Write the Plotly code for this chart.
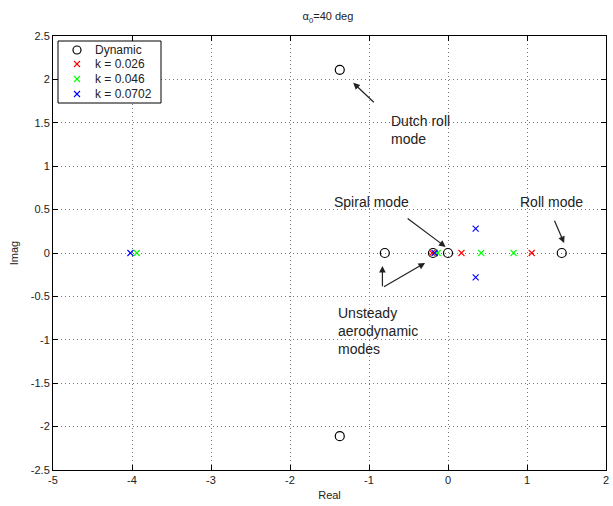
import plotly.graph_objects as go

# Eigenvalues of the lateral model at alpha0 = 40 deg
dyn_re = [-1.37, -1.37, -0.80, -0.19, 0.0, 1.44]
dyn_im = [2.11, -2.11, 0.0, 0.0, 0.0, 0.0]

k1_re = [-0.20, 0.17, 1.06]
k1_im = [0.0, 0.0, 0.0]

k2_re = [-3.94, -0.13, 0.42, 0.83]
k2_im = [0.0, 0.0, 0.0, 0.0]

k3_re = [-4.02, -0.17, 0.35, 0.35]
k3_im = [0.0, 0.0, 0.28, -0.28]

series_names = ["Dynamic", "k = 0.026", "k = 0.046", "k = 0.0702"]
series_colors = ["black", "#ff0000", "#00ff00", "#0000ff"]

x_ticks = [-5, -4, -3, -2, -1, 0, 1, 2]
y_ticks = [-2.5, -2, -1.5, -1, -0.5, 0, 0.5, 1, 1.5, 2, 2.5]

FONT = "Liberation Sans, Arial, Helvetica, sans-serif"

# plot area in pixels (figure 613 x 506)
ML, MR, MT, MB = 53, 7, 36, 36
PW, PH = 613 - ML - MR, 506 - MT - MB


def px(xp):
    return (xp - ML) / PW


def py(yp):
    return 1 - (yp - MT) / PH


fig = go.Figure()
fig.add_trace(go.Scatter(
    x=dyn_re, y=dyn_im, mode="markers", name=series_names[0],
    marker=dict(symbol="circle-open", size=9, color=series_colors[0], line=dict(width=1.2)),
))
for name, color, xs, ys in zip(series_names[1:], series_colors[1:],
                               [k1_re, k2_re, k3_re], [k1_im, k2_im, k3_im]):
    fig.add_trace(go.Scatter(
        x=xs, y=ys, mode="markers", name=name,
        marker=dict(symbol="x-thin-open", size=6, color=color, line=dict(width=1.1, color=color)),
    ))

# Legend box drawn in the upper-left corner of the axes
shapes = [dict(type="rect", xref="paper", yref="paper",
               x0=px(58), x1=px(161), y0=py(103), y1=py(41),
               line=dict(color="black", width=1), fillcolor="white", layer="above")]
annotations = []
row_y = [50, 64, 79, 94]
mx = 77
for i, (name, color) in enumerate(zip(series_names, series_colors)):
    yy = row_y[i]
    if i == 0:
        shapes.append(dict(type="circle", xref="paper", yref="paper",
                           x0=px(mx - 4), x1=px(mx + 4), y0=py(yy + 4), y1=py(yy - 4),
                           line=dict(color=color, width=1.2), layer="above"))
    else:
        for d in (1, -1):
            shapes.append(dict(type="line", xref="paper", yref="paper",
                               x0=px(mx - 3), x1=px(mx + 3), y0=py(yy - 3 * d), y1=py(yy + 3 * d),
                               line=dict(color=color, width=1.1), layer="above"))
    annotations.append(dict(x=px(93), y=py(yy), xref="paper", yref="paper", text=name,
                            xanchor="left", yanchor="middle", showarrow=False,
                            font=dict(family=FONT, size=12, color="#222")))

# Mode labels
labels = [
    dict(x=-0.75, y=1.42, text="Dutch roll<br>mode", xanchor="left"),
    dict(x=-0.97, y=0.59, text="Spiral mode", xanchor="center"),
    dict(x=1.31, y=0.59, text="Roll mode", xanchor="center"),
    dict(x=-1.42, y=-0.90, text="Unsteady<br>aerodynamic<br>modes", xanchor="left"),
]
for lb in labels:
    annotations.append(dict(x=lb["x"], y=lb["y"], text=lb["text"], xanchor=lb["xanchor"],
                            yanchor="middle", align="left", showarrow=False,
                            font=dict(family=FONT, size=14, color="#222")))

# Arrows (tail -> head)
arrows = [
    ((-0.92, 1.72), (-1.20, 1.96)),
    ((-0.53, 0.41), (-0.03, 0.07)),
    ((1.34, 0.39), (1.47, 0.115)),
    ((-0.83, -0.40), (-0.83, -0.15)),
    ((-0.83, -0.40), (-0.29, -0.115)),
]
for (tx, ty), (hx, hy) in arrows:
    annotations.append(dict(x=hx, y=hy, ax=tx, ay=ty, xref="x", yref="y", axref="x", ayref="y",
                            text="", showarrow=True, arrowhead=2, arrowsize=1.1, arrowwidth=1.2,
                            arrowcolor="#222", standoff=0, startstandoff=0))

axis_common = dict(
    showline=True, linecolor="black", linewidth=1, mirror="ticks",
    ticks="inside", ticklen=5, tickcolor="black", tickwidth=1,
    showgrid=True, gridcolor="#777777", griddash="1px,3px", gridwidth=1,
    zeroline=False, automargin=False,
    tickfont=dict(family=FONT, size=11, color="#222"),
)

fig.update_xaxes(range=[-5, 2], tickvals=x_ticks, ticktext=[str(v) for v in x_ticks],
                 title=dict(text="Real", font=dict(family=FONT, size=11, color="#222"), standoff=6),
                 **axis_common)
fig.update_yaxes(range=[-2.5, 2.5], tickvals=y_ticks,
                 ticktext=[("%g" % v) for v in y_ticks],
                 title=dict(text="Imag", font=dict(family=FONT, size=11, color="#222"), standoff=9),
                 **axis_common)

fig.update_layout(
    width=613, height=506,
    margin=dict(l=ML, r=MR, t=MT, b=MB),
    paper_bgcolor="white", plot_bgcolor="white",
    title=dict(text="α<sub>0</sub>=40 deg", x=0.535, xanchor="center", y=0.975, yanchor="top",
               font=dict(family=FONT, size=11, color="#222")),
    showlegend=False,
    shapes=shapes,
    annotations=annotations,
)

fig.write_html("out.html")
